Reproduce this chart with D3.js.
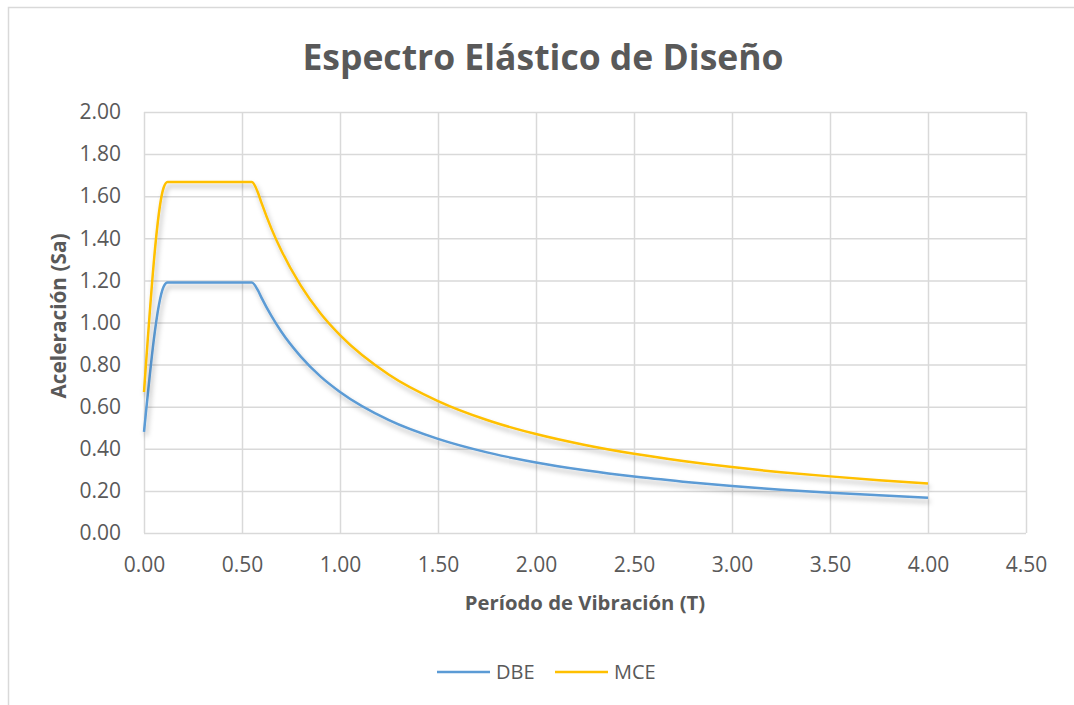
<!DOCTYPE html>
<html>
<head>
<meta charset="utf-8">
<script src="https://cdn.jsdelivr.net/npm/d3@7"></script>
<style>
  html, body { margin: 0; padding: 0; background: #fff; }
  svg { display: block; font-family: "Open Sans", "Noto Sans", sans-serif; }
</style>
</head>
<body>
<svg id="chart" width="1074" height="705"></svg>
<script>
// Período T (s) and spectral accelerations Sa (g)
const periods = [0, 0.10, 0.12, 0.20, 0.30, 0.40, 0.50, 0.55, 0.58, 0.60, 0.65, 0.70, 0.80, 0.90, 1.00,
                 1.25, 1.50, 1.75, 2.00, 2.25, 2.50, 2.75, 3.00, 3.25, 3.50, 3.75, 4.00];
const dbe = [0.48, 1.17, 1.19, 1.19, 1.19, 1.19, 1.19, 1.19, 1.155, 1.117, 1.031, 0.957, 0.838, 0.744, 0.670,
             0.536, 0.447, 0.383, 0.335, 0.298, 0.268, 0.244, 0.223, 0.206, 0.191, 0.179, 0.168];
const mce = [0.67, 1.64, 1.667, 1.667, 1.667, 1.667, 1.667, 1.667, 1.620, 1.567, 1.446, 1.343, 1.175, 1.044, 0.940,
             0.752, 0.627, 0.537, 0.470, 0.418, 0.376, 0.342, 0.313, 0.289, 0.269, 0.251, 0.235];
const seriesNames = ["DBE", "MCE"];
const seriesColors = ["#5B9BD5", "#FFC000"];
const xTicks = [0, 0.5, 1.0, 1.5, 2.0, 2.5, 3.0, 3.5, 4.0, 4.5];
const yTicks = [0, 0.2, 0.4, 0.6, 0.8, 1.0, 1.2, 1.4, 1.6, 1.8, 2.0];

const textColor = "#595959";
const gridColor = "#d9d9d9";

const svg = d3.select("#chart");

// chart area border
svg.append("rect")
  .attr("x", 8.5).attr("y", 7.5)
  .attr("width", 1100).attr("height", 760)
  .attr("fill", "#fff").attr("stroke", gridColor).attr("stroke-width", 1.5);

// soft outer shadow for the series lines
const defs = svg.append("defs");
const f = defs.append("filter").attr("id", "lineShadow")
  .attr("x", "-5%").attr("y", "-5%").attr("width", "110%").attr("height", "120%");
f.append("feDropShadow")
  .attr("dx", 2).attr("dy", 4).attr("stdDeviation", 2.5)
  .attr("flood-color", "#000").attr("flood-opacity", 0.28);

const plot = { left: 144, right: 1026, top: 112, bottom: 533 };
const x = d3.scaleLinear().domain([0, 4.5]).range([plot.left, plot.right]);
const y = d3.scaleLinear().domain([0, 2.0]).range([plot.bottom, plot.top]);

// horizontal gridlines + y tick labels
const yAxis = svg.append("g")
  .attr("transform", `translate(${plot.left},0)`)
  .call(d3.axisLeft(y).tickValues(yTicks).tickSize(-(plot.right - plot.left))
        .tickPadding(23).tickFormat(d3.format(".2f")));
yAxis.select(".domain").remove();
yAxis.selectAll("line").attr("stroke", gridColor).attr("stroke-width", 1.5);
yAxis.selectAll("text").attr("fill", textColor).attr("font-size", 21)
  .attr("font-family", "'Open Sans', sans-serif");

// vertical gridlines + x tick labels
const xAxis = svg.append("g")
  .attr("transform", `translate(0,${plot.bottom})`)
  .call(d3.axisBottom(x).tickValues(xTicks).tickSize(-(plot.bottom - plot.top))
        .tickPadding(24).tickFormat(d3.format(".2f")));
xAxis.select(".domain").remove();
xAxis.selectAll("line").attr("stroke", gridColor).attr("stroke-width", 1.5);
xAxis.selectAll("text").attr("fill", textColor).attr("font-size", 21)
  .attr("font-family", "'Open Sans', sans-serif");

// series lines
const line = d3.line()
  .x((d, i) => x(periods[i]))
  .y(d => y(d))
  .curve(d3.curveMonotoneX);

[dbe, mce].forEach((vals, k) => {
  svg.append("path")
    .datum(vals)
    .attr("d", line)
    .attr("fill", "none")
    .attr("stroke", seriesColors[k])
    .attr("stroke-width", 2.5)
    .attr("stroke-linejoin", "round")
    .attr("filter", "url(#lineShadow)");
});

// title
svg.append("text")
  .attr("x", 543).attr("y", 70)
  .attr("text-anchor", "middle")
  .attr("font-size", 35.5).attr("font-weight", 700)
  .attr("fill", textColor)
  .text("Espectro Elástico de Diseño");

// axis titles
svg.append("text")
  .attr("x", 585).attr("y", 610)
  .attr("text-anchor", "middle")
  .attr("font-size", 20.3).attr("font-weight", 700)
  .attr("fill", textColor)
  .text("Período de Vibración (T)");

svg.append("text")
  .attr("transform", "translate(66,316) rotate(-90)")
  .attr("text-anchor", "middle")
  .attr("font-size", 20.8).attr("font-weight", 700)
  .attr("fill", textColor)
  .text("Aceleración (Sa)");

// legend
const legendItems = [
  { name: seriesNames[0], color: seriesColors[0], x0: 437 },
  { name: seriesNames[1], color: seriesColors[1], x0: 555 }
];
const lg = svg.append("g");
legendItems.forEach(it => {
  lg.append("line")
    .attr("x1", it.x0).attr("x2", it.x0 + 53)
    .attr("y1", 672).attr("y2", 672)
    .attr("stroke", it.color).attr("stroke-width", 2.5);
  lg.append("text")
    .attr("x", it.x0 + 59).attr("y", 679)
    .attr("font-size", 20)
    .attr("fill", textColor)
    .text(it.name);
});
</script>
</body>
</html>
